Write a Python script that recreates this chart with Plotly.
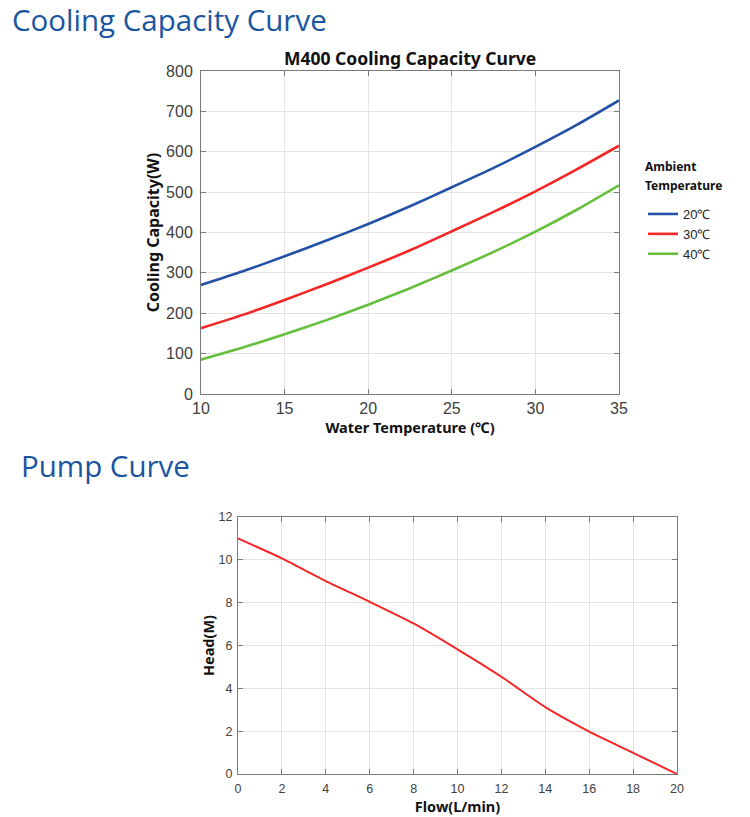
import plotly.graph_objects as go

# ---- data: cooling capacity ----
water_temp = [10, 12.5, 15, 17.5, 20, 22.5, 25, 27.5, 30, 32.5, 35]
cap_20 = [270, 304, 341, 380, 421, 465, 512, 560, 612, 667, 727]
cap_30 = [163, 196, 233, 272, 313, 356, 403, 451, 502, 557, 615]
cap_40 = [85, 115, 148, 183, 221, 262, 306, 352, 402, 457, 517]
series_names = ["20℃", "30℃", "40℃"]
series_colors = ["#2251a6", "#f52626", "#66bf3c"]

# ---- data: pump curve ----
flow = [0, 2, 4, 6, 8, 10, 12, 14, 16, 18, 20]
head = [11.0, 10.07, 9.01, 8.04, 7.03, 5.82, 4.54, 3.12, 1.98, 0.99, 0.0]

W, H = 750, 817


def px(x):
    return x / W


def py(y):
    return 1 - y / H


fig = go.Figure()
for name, ys, col in zip(series_names, [cap_20, cap_30, cap_40], series_colors):
    fig.add_trace(go.Scatter(x=water_temp, y=ys, mode="lines", name=name,
                             line=dict(color=col, width=2.6, shape="spline", smoothing=0.6),
                             xaxis="x", yaxis="y"))
fig.add_trace(go.Scatter(x=flow, y=head, mode="lines", showlegend=False,
                         line=dict(color="#f52626", width=2, shape="spline", smoothing=0.5),
                         xaxis="x2", yaxis="y2"))

tickfont = dict(family="Liberation Sans, Arial", size=16, color="#404040")
tickfont2 = dict(family="Liberation Sans, Arial", size=12.5, color="#404040")


def ax(**kw):
    base = dict(showline=True, linecolor="#7a7a7a", linewidth=1, mirror="ticks",
                ticks="inside", ticklen=5, tickcolor="#7a7a7a", automargin=False,
                showgrid=True, gridcolor="#e3e3e3", gridwidth=1, zeroline=False)
    base.update(kw)
    return base


fig.update_layout(
    width=W, height=H, margin=dict(l=0, r=0, t=0, b=0, pad=0, autoexpand=False),
    paper_bgcolor="white", plot_bgcolor="white",
    xaxis=ax(domain=[px(201), px(619)], range=[10, 35], dtick=5, tickfont=tickfont,
             anchor="y",
             title=dict(text="<b>Water Temperature (℃)</b>",
                        font=dict(family="Noto Sans", size=14.5, color="#111111"), standoff=0)),
    yaxis=ax(domain=[py(394), py(71)], range=[0, 800], dtick=100, tickfont=tickfont,
             anchor="x", ticklabelstandoff=4,
             title=dict(text="<b>Cooling Capacity(W)</b>",
                        font=dict(family="Noto Sans", size=16, color="#111111"), standoff=2)),
    xaxis2=ax(domain=[px(238), px(677)], range=[0, 20], dtick=2, tickfont=tickfont2,
              anchor="y2", ticklabelstandoff=3,
              title=dict(text="<b>Flow(L/min)</b>",
                         font=dict(family="Noto Sans", size=14.5, color="#111111"), standoff=6)),
    yaxis2=ax(domain=[py(774), py(517)], range=[0, 12], dtick=2, tickfont=tickfont2,
              anchor="x2", ticklabelstandoff=2,
              title=dict(text="<b>Head(M)</b>",
                         font=dict(family="Noto Sans", size=14.5, color="#111111"), standoff=0)),
    legend=dict(x=px(643), y=py(199), xanchor="left", yanchor="top",
                bgcolor="rgba(0,0,0,0)",
                font=dict(family="Liberation Sans, Arial", size=13, color="#222222"),
                tracegroupgap=0),
    annotations=[
        dict(text="Cooling Capacity Curve", x=px(11), y=py(19), xref="paper", yref="paper",
             xanchor="left", yanchor="middle", showarrow=False, borderpad=0,
             font=dict(family="Open Sans", size=29.5, color="#1a55a0")),
        dict(text="Pump Curve", x=px(19), y=py(465), xref="paper", yref="paper",
             xanchor="left", yanchor="middle", showarrow=False,
             font=dict(family="Open Sans", size=29.5, color="#1a55a0")),
        dict(text="<b>M400 Cooling Capacity Curve</b>", x=px(410), y=py(58),
             xref="paper", yref="paper", xanchor="center", yanchor="middle",
             showarrow=False, font=dict(family="Noto Sans", size=17.5, color="#111111")),
        dict(text="<b>Ambient</b>", x=px(643), y=py(166), xref="paper", yref="paper",
             xanchor="left", yanchor="middle", showarrow=False,
             font=dict(family="Noto Sans", size=12, color="#111111")),
        dict(text="<b>Temperature</b>", x=px(643), y=py(186), xref="paper", yref="paper",
             xanchor="left", yanchor="middle", showarrow=False,
             font=dict(family="Noto Sans", size=12, color="#111111")),
    ],
)

fig.write_html("out.html", config={"displayModeBar": False},
               post_script="document.body.style.margin='0px';")
